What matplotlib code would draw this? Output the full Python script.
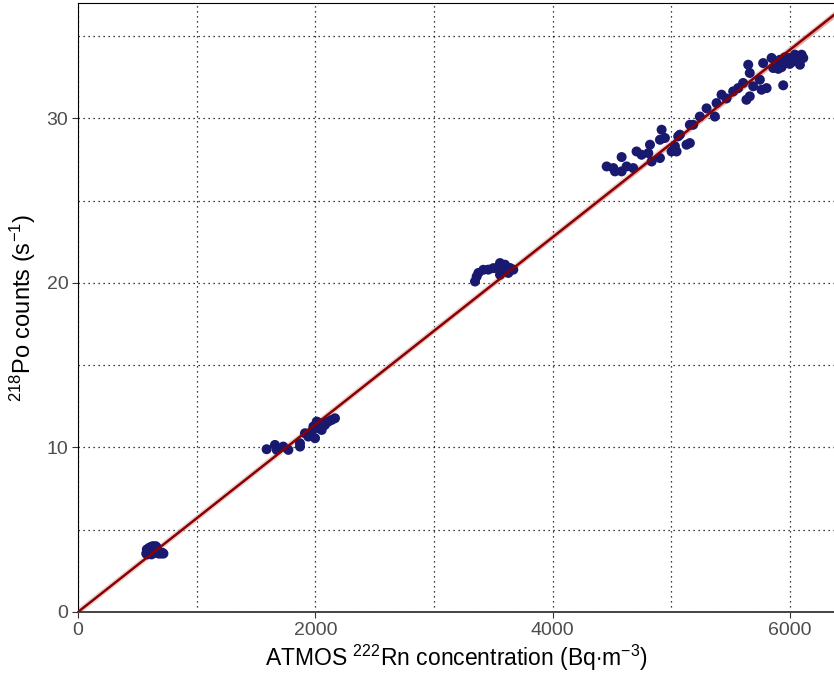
import numpy as np
import matplotlib
matplotlib.use('Agg')
import matplotlib.pyplot as plt
from matplotlib.ticker import MultipleLocator

plt.rcParams['font.family'] = ['Liberation Sans', 'DejaVu Sans']
plt.rcParams['mathtext.fontset'] = 'custom'
plt.rcParams['mathtext.rm'] = 'Liberation Sans'
plt.rcParams['mathtext.it'] = 'Liberation Sans'

# ATMOS radon concentration (Bq m-3) and 218Po count rate (s-1)
rn_low = [575, 580, 585, 590, 600, 610, 615, 620, 625, 630, 640, 650, 655, 665, 670, 680, 690, 700, 710, 720]
po_low = [3.55, 3.8, 3.5, 3.7, 3.9, 3.6, 3.95, 3.5, 3.75, 4.0, 3.85, 3.6, 4.0, 3.9, 3.7, 3.55, 3.6, 3.55, 3.6, 3.55]

rn_mid = [1590, 1660, 1675, 1730, 1773, 1871, 1871, 1913, 1941, 1970, 1984, 1998, 2012, 2026, 2054, 2054, 2082, 2110, 2138, 2166]
po_mid = [9.89, 10.15, 9.85, 10.05, 9.85, 10.25, 10.05, 10.86, 10.66, 10.96, 11.27, 10.56, 11.57, 11.17, 11.06, 11.47, 11.37, 11.57, 11.67, 11.77]

rn_c3 = [3346, 3360, 3375, 3416, 3458, 3500, 3529, 3557, 3557, 3571, 3599, 3627, 3641, 3669]
po_c3 = [20.08, 20.38, 20.6, 20.79, 20.8, 20.89, 20.9, 21.2, 20.49, 20.8, 21.1, 20.6, 20.9, 20.8]

rn_high = [4456, 4512, 4526, 4582, 4582, 4624, 4680, 4708, 4750, 4807, 4821, 4835, 4905, 4905,
           4919, 4947, 5003, 5031, 5045, 5059, 5073, 5129, 5157, 5185, 5157, 5241, 5298, 5368,
           5382, 5424, 5466, 5522, 5564, 5606, 5634, 5662, 5649, 5662, 5691, 5747, 5761, 5775,
           5804, 5846, 5860, 5888, 5916, 5944, 5930, 5973, 6001, 6029, 6057, 6085, 6113, 6099,
           6043, 5999, 5958, 5902]
po_high = [27.07, 26.97, 26.77, 27.64, 26.77, 27.07, 26.97, 27.98, 27.78, 27.88, 28.39, 27.37, 27.58, 28.69,
           29.30, 28.8, 27.98, 28.3, 27.98, 28.9, 29.0, 28.39, 28.49, 29.6, 29.6, 30.1, 30.6, 30.1,
           30.92, 31.43, 31.2, 31.63, 31.83, 32.14, 31.12, 31.33, 33.25, 32.75, 31.94, 32.34, 31.73, 33.35,
           31.83, 33.66, 33.05, 33.3, 33.55, 32.0, 33.1, 33.35, 33.66, 33.45, 33.76, 33.25, 33.66, 33.86,
           33.86, 33.3, 33.7, 33.0]

x = np.array(rn_low + rn_mid + rn_c3 + rn_high, dtype=float)
y = np.array(po_low + po_mid + po_c3 + po_high, dtype=float)

# linear fit through origin with 95% confidence band
slope = np.sum(x * y) / np.sum(x * x)
resid = y - slope * x
s2 = np.sum(resid ** 2) / (len(x) - 1)
se_slope = np.sqrt(s2 / np.sum(x * x))
xx = np.linspace(0, 6400, 200)
yy = slope * xx
band = 1.96 * se_slope * xx

fig = plt.figure(figsize=(8.34, 6.78), dpi=100)
ax = fig.add_axes([78 / 834, 66 / 678, 1 - 78 / 834, (612 - 3) / 678])

ax.fill_between(xx, yy - band, yy + band, color='#c98888', alpha=0.7, lw=0, zorder=2)
ax.plot(xx, yy, color='#e3b3b3', lw=4.0, alpha=0.6, zorder=2.5)
ax.scatter(x, y, s=52, color='#191970', edgecolors='none', zorder=3)
ax.plot(xx, yy, color='#8b0000', lw=1.8, zorder=4)

ax.set_xlim(0, 6372)
ax.set_ylim(0, 37.0)
ax.xaxis.set_major_locator(MultipleLocator(2000))
ax.xaxis.set_minor_locator(MultipleLocator(1000))
ax.yaxis.set_major_locator(MultipleLocator(10))
ax.yaxis.set_minor_locator(MultipleLocator(5))
ax.grid(which='both', color='black', linestyle=(0, (1, 3)), linewidth=0.9)
ax.set_axisbelow(True)

ax.spines['right'].set_visible(False)
ax.spines['left'].set_color('black')
ax.spines['top'].set_color('black')
ax.spines['bottom'].set_color('#444444')
ax.spines['bottom'].set_linewidth(1.4)
ax.tick_params(which='major', length=4, color='#333333', labelsize=14, labelcolor='#4d4d4d', pad=3)
ax.tick_params(which='minor', length=0)

ax.set_xlabel(r'ATMOS $^{222}$Rn concentration (Bq$\cdot$m$^{-3}$)', fontsize=16.5, labelpad=3)
ax.set_ylabel(r'$^{218}$Po counts (s$^{-1}$)', fontsize=17, labelpad=6)

fig.savefig('out.png', dpi=100)
